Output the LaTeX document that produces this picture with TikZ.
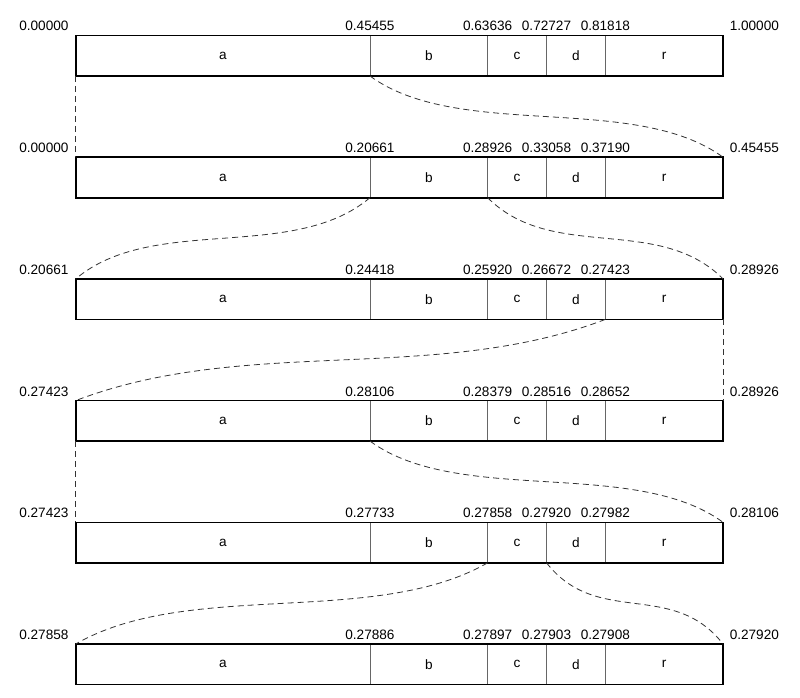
\documentclass[tikz,border=0pt]{standalone}
\usepackage{fontspec}
\setmainfont{Liberation Sans}
\usetikzlibrary{positioning}

\begin{document}
\begin{tikzpicture}[x=1pt, y=-1pt, every node/.style={font=\fontsize{13.6}{16}\selectfont},
  cellbox/.style={draw=black!60, line width=0.8pt, minimum height=40.5pt, inner sep=0pt, outer sep=0pt},
  bound/.style={inner sep=0pt, yshift=4.5pt},
  link/.style={black!80, line width=0.8pt, dash pattern=on 6pt off 4pt}]
  \useasboundingbox (0,0) rectangle (800,698);

  % one bar per coded symbol
  \foreach \row/\ytop/\lo/\ba/\bb/\bc/\bd/\hi in {
      1/35.5/0.00000/0.45455/0.63636/0.72727/0.81818/1.00000,
      2/157.2/0.00000/0.20661/0.28926/0.33058/0.37190/0.45455,
      3/278.9/0.20661/0.24418/0.25920/0.26672/0.27423/0.28926,
      4/400.6/0.27423/0.28106/0.28379/0.28516/0.28652/0.28926,
      5/522.3/0.27423/0.27733/0.27858/0.27920/0.27982/0.28106,
      6/644.0/0.27858/0.27886/0.27897/0.27903/0.27908/0.27920} {
    \node[cellbox, minimum width=294.25pt, anchor=north west] (a\row) at (75.7,\ytop) {a};
    \node[cellbox, minimum width=117.7pt, right=0pt of a\row] (b\row) {b};
    \node[cellbox, minimum width=58.85pt, right=0pt of b\row] (c\row) {c};
    \node[cellbox, minimum width=58.85pt, right=0pt of c\row] (d\row) {d};
    \node[cellbox, minimum width=117.7pt, right=0pt of d\row] (r\row) {r};
    \draw[line width=1.6pt] (a\row.north west) rectangle (r\row.south east);

    % interval bounds
    \node[bound, anchor=base east, xshift=-7pt] (lo\row) at (a\row.north west) {\lo};
    \node[bound, anchor=base] (ba\row) at (b\row.north west) {\ba};
    \node[bound, anchor=base] (bb\row) at (c\row.north west) {\bb};
    \node[bound, anchor=base] (bc\row) at (d\row.north west) {\bc};
    \node[bound, anchor=base] (bd\row) at (r\row.north west) {\bd};
    \node[bound, anchor=base west, xshift=6.5pt] (hi\row) at (r\row.north east) {\hi};
  }

  % chosen subinterval -> next bar
  \draw[link] (a1.south west) -- (a2.north west);
  \draw[link] (a1.south east) .. controls +(89,65) and +(-89,-65) .. (r2.north east);
  \draw[link] (b2.south west) .. controls +(-77,65) and +(77,-65) .. (a3.north west);
  \draw[link] (b2.south east) .. controls +(65,65) and +(-65,-65) .. (r3.north east);
  \draw[link] (r3.south west) .. controls +(-170,65) and +(170,-65) .. (a4.north west);
  \draw[link] (r3.south east) -- (r4.north east);
  \draw[link] (a4.south west) -- (a5.north west);
  \draw[link] (a4.south east) .. controls +(89,65) and +(-89,-65) .. (r5.north east);
  \draw[link] (c5.south west) .. controls +(-113,65) and +(113,-65) .. (a6.north west);
  \draw[link] (c5.south east) .. controls +(51,65) and +(-51,-65) .. (r6.north east);
\end{tikzpicture}
\end{document}
